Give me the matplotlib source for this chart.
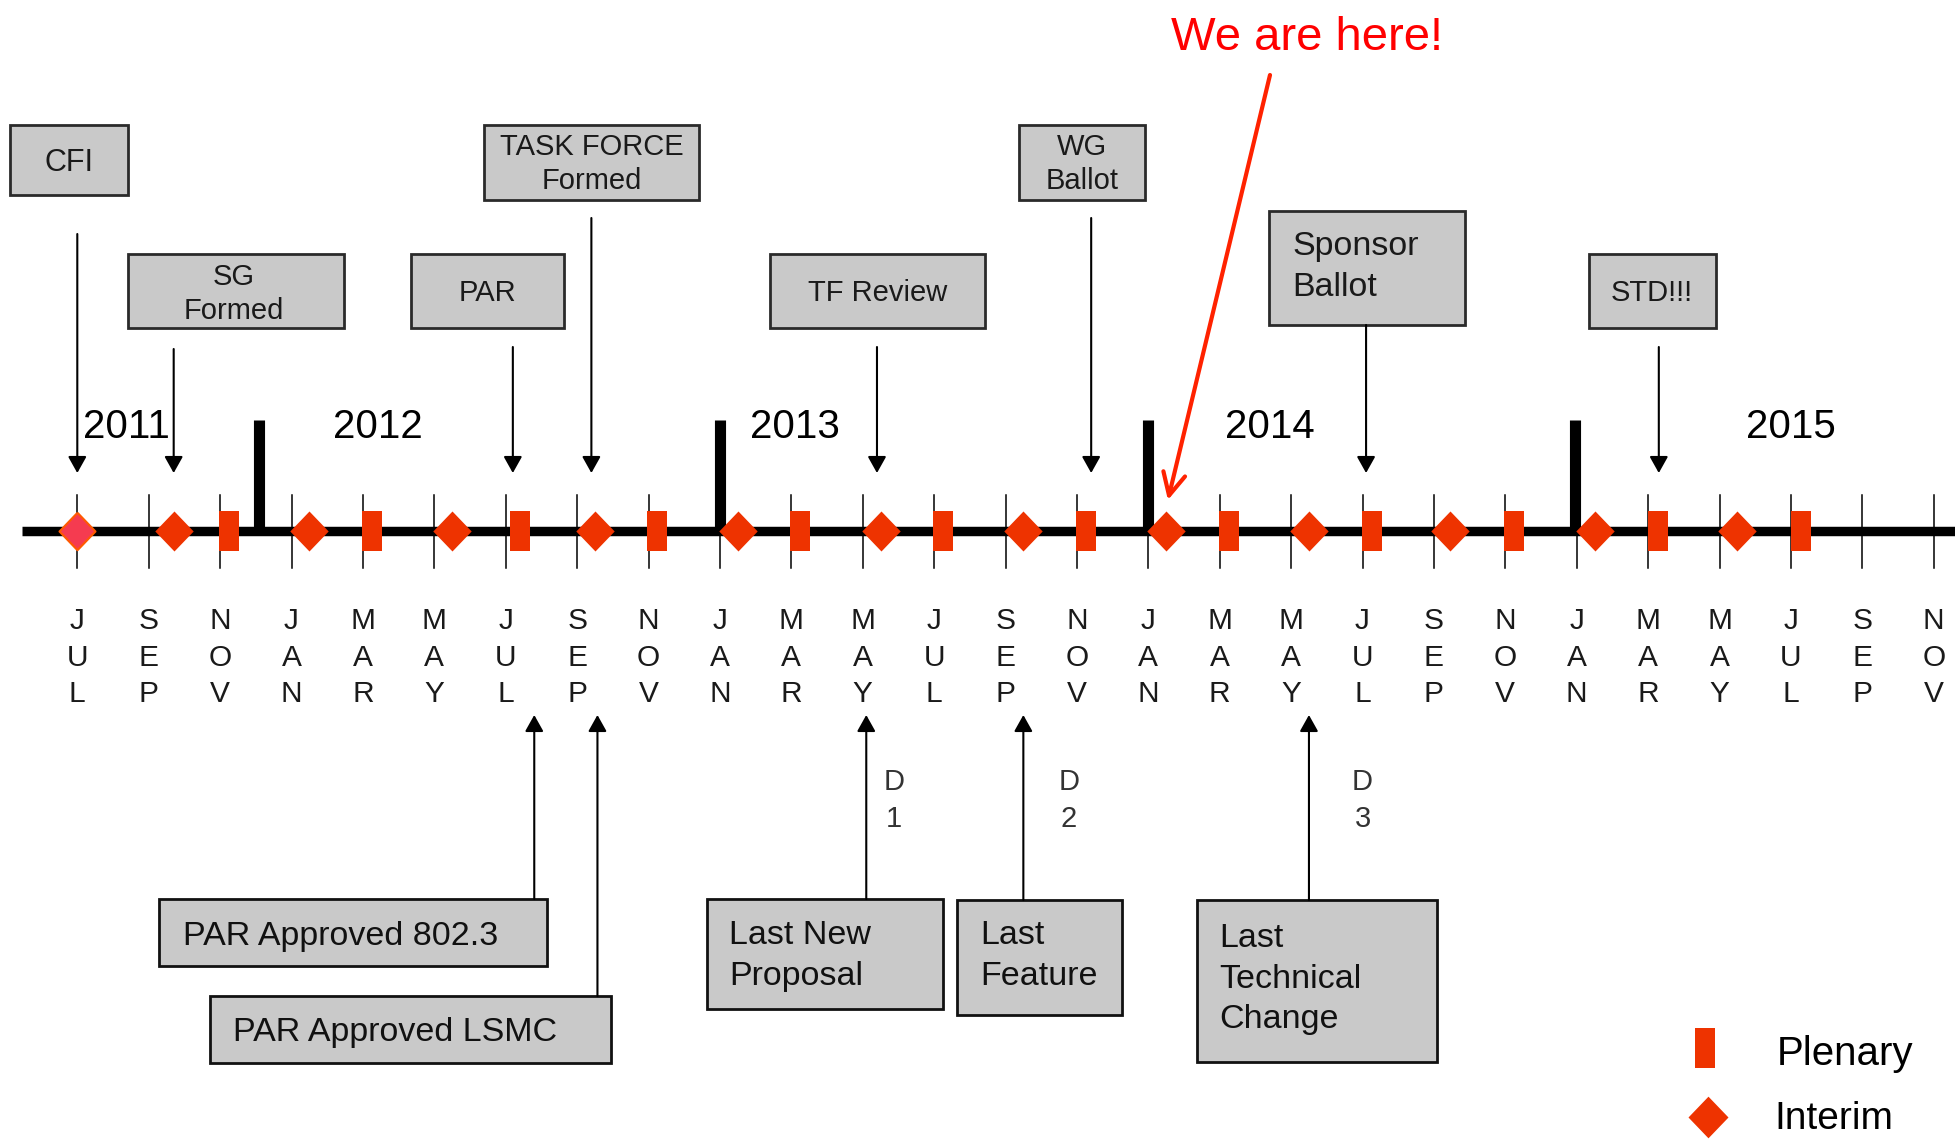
import matplotlib
matplotlib.use("Agg")
import matplotlib.pyplot as plt
from matplotlib.patches import Rectangle

plt.rcParams['font.family'] = ['Liberation Sans', 'DejaVu Sans']

# --- data -------------------------------------------------------------
month_idx = list(range(0, 53, 2))          # months since Jul 2011
month_lbl = ['JUL', 'SEP', 'NOV', 'JAN', 'MAR', 'MAY', 'JUL', 'SEP', 'NOV',
             'JAN', 'MAR', 'MAY', 'JUL', 'SEP', 'NOV', 'JAN', 'MAR', 'MAY',
             'JUL', 'SEP', 'NOV', 'JAN', 'MAR', 'MAY', 'JUL', 'SEP', 'NOV']
years = ['2011', '2012', '2013', '2014', '2015']
year_pos = [1.37, 8.43, 20.1, 33.4, 48.0]
year_breaks = [5.1, 18, 30, 41.95]

interim = [0, 2.7, 6.5, 10.5, 14.5, 18.5, 22.5, 26.5, 30.5, 34.5, 38.45, 42.5, 46.5]
plenary = [4.25, 8.25, 12.4, 16.25, 20.25, 24.25, 28.25, 32.25, 36.28, 40.25, 44.28, 48.28]

top_events = ['CFI', 'SG\nFormed', 'PAR', 'TASK FORCE\nFormed', 'TF Review',
              'WG\nBallot', 'Sponsor\nBallot', 'STD!!!']
top_month = [0, 2.7, 12.2, 14.4, 22.4, 28.4, 36.1, 44.3]

bottom_events = ['PAR Approved 802.3', 'PAR Approved LSMC', 'Last New\nProposal',
                 'Last\nFeature', 'Last\nTechnical\nChange']
bottom_month = [12.8, 14.57, 22.1, 26.5, 34.5]
drafts = ['1', '2', '3']
draft_month = [22.88, 27.78, 36.0]
here_month = 30.55

# --- layout (pixels of a 1955x1139 canvas) ----------------------------
X0, DX = 77.3, 35.7          # pixel of month 0, pixels per month
def mx(px):
    return (px - X0) / DX

# box: (left, top, right, bottom, text x, text y, align, fontsize, linespacing, arrow top y)
top_layout = [
    (10, 125, 128, 195, 69, 163, 'center', 22, 1.2, 234),
    (128, 254, 344, 328, 234, 294, 'center', 21, 1.3, 349),
    (411, 254, 564, 328, 487, 293, 'center', 21, 1.2, 347),
    (484, 125, 699, 200, 592, 164, 'center', 21, 1.3, 218),
    (770, 254, 985, 328, 878, 293, 'center', 21, 1.2, 347),
    (1019, 125, 1145, 200, 1082, 164, 'center', 21, 1.3, 218),
    (1269, 211, 1465, 325, 1292, 267, 'left', 24.5, 1.4, 325),
    (1589, 254, 1716, 328, 1652, 293, 'center', 21, 1.2, 347),
]
bottom_layout = [
    (159, 899, 547, 966, 183, 936, 24.5, 1.3),
    (210, 996, 611, 1063, 233, 1033, 24.5, 1.3),
    (707, 899, 943, 1009, 729, 956, 24.5, 1.42),
    (957, 900, 1122, 1015, 980, 956, 24.5, 1.42),
    (1197, 900, 1437, 1062, 1219, 979, 24.5, 1.38),
]

AXIS_Y = 531
RED = '#ee3300'
BOX = '#c9c9c9'

fig = plt.figure(figsize=(19.55, 11.39), dpi=100)
ax = fig.add_axes([0, 0, 1, 1])
ax.set_xlim(mx(0), mx(1955))
ax.set_ylim(1139, 0)
ax.axis('off')

# timeline
ax.plot([mx(22), mx(1955)], [AXIS_Y, AXIS_Y], color='black', lw=6.8,
        solid_capstyle='butt', zorder=2)
for m in month_idx:
    ax.plot([m, m], [495, 568], color='black', lw=1.1, zorder=1)
for m in year_breaks:
    ax.plot([m, m], [420, AXIS_Y], color='black', lw=8,
            solid_capstyle='butt', zorder=3)

for m, lbl in zip(month_idx, month_lbl):
    for k, ch in enumerate(lbl):
        ax.text(m, 621 + 36.5 * k, ch, ha='center', va='center',
                fontsize=21.5, color='#1a1a1a')

for p, y in zip(year_pos, years):
    ax.text(p, 427, y, ha='center', va='center', fontsize=29, color='black')

# meeting markers
diamond = [(0, 0.5), (0.48, 0), (0, -0.5), (-0.48, 0), (0, 0.5)]
rect = [(-0.26, -0.5), (0.26, -0.5), (0.26, 0.5), (-0.26, 0.5), (-0.26, -0.5)]
ax.plot(plenary, [AXIS_Y] * len(plenary), ls='none', marker=rect,
        markersize=28.8, color=RED, markeredgewidth=0, zorder=4)
ax.plot(interim[1:], [AXIS_Y] * (len(interim) - 1), ls='none', marker=diamond,
        markersize=28.8, color=RED, markeredgewidth=0, zorder=4)
ax.plot(interim[:1], [AXIS_Y], ls='none', marker=diamond, markersize=27,
        markerfacecolor='#f53b50', markeredgecolor='#ff5a00',
        markeredgewidth=1.5, zorder=4)

arrow_kw = dict(arrowstyle='-|>,head_length=0.5,head_width=0.28', color='black',
                lw=1.5, mutation_scale=20, shrinkA=0, shrinkB=0)

# top milestones
for lbl, m, lay in zip(top_events, top_month, top_layout):
    l, t, r, b, tx, ty, al, fs, ls, ay = lay
    ax.add_patch(Rectangle((mx(l), t), mx(r) - mx(l), b - t, facecolor=BOX,
                           edgecolor='#2a2a2a', lw=2, zorder=3))
    ax.text(mx(tx), ty, lbl, ha=al, va='center', multialignment=al,
            fontsize=fs, linespacing=ls, color='#1a1a1a', zorder=4)
    ax.annotate('', xy=(m, 473), xytext=(m, ay), arrowprops=arrow_kw)

# bottom milestones
for lbl, m, lay in zip(bottom_events, bottom_month, bottom_layout):
    l, t, r, b, tx, ty, fs, ls = lay
    ax.add_patch(Rectangle((mx(l), t), mx(r) - mx(l), b - t, facecolor=BOX,
                           edgecolor='#111111', lw=2, zorder=3))
    ax.text(mx(tx), ty, lbl, ha='left', va='center', multialignment='left',
            fontsize=fs, linespacing=ls, color='#111111', zorder=4)
    ax.annotate('', xy=(m, 715), xytext=(m, t), arrowprops=arrow_kw)

for d, m in zip(drafts, draft_month):
    ax.text(m, 782, 'D', ha='center', va='center', fontsize=21, color='#333333')
    ax.text(m, 819, d, ha='center', va='center', fontsize=21, color='#333333')

# we are here
ax.text(mx(1307), 38, 'We are here!', ha='center', va='center',
        fontsize=34, color='#ff0000')
ax.annotate('', xy=(here_month, 500), xytext=(mx(1270), 75),
            arrowprops=dict(arrowstyle='->,head_length=0.8,head_width=0.4',
                            color='#ff2200', lw=3, mutation_scale=20,
                            shrinkA=0, shrinkB=0))

# legend
ax.plot([mx(1705)], [1048], ls='none', marker=rect, markersize=28.8,
        color=RED, markeredgewidth=0)
ax.plot([mx(1708)], [1117], ls='none', marker=diamond, markersize=30,
        color=RED, markeredgewidth=0)
ax.text(mx(1777), 1054, 'Plenary', ha='left', va='center', fontsize=29)
ax.text(mx(1774), 1119, 'Interim', ha='left', va='center', fontsize=28)

fig.savefig('out.png', dpi=100)
